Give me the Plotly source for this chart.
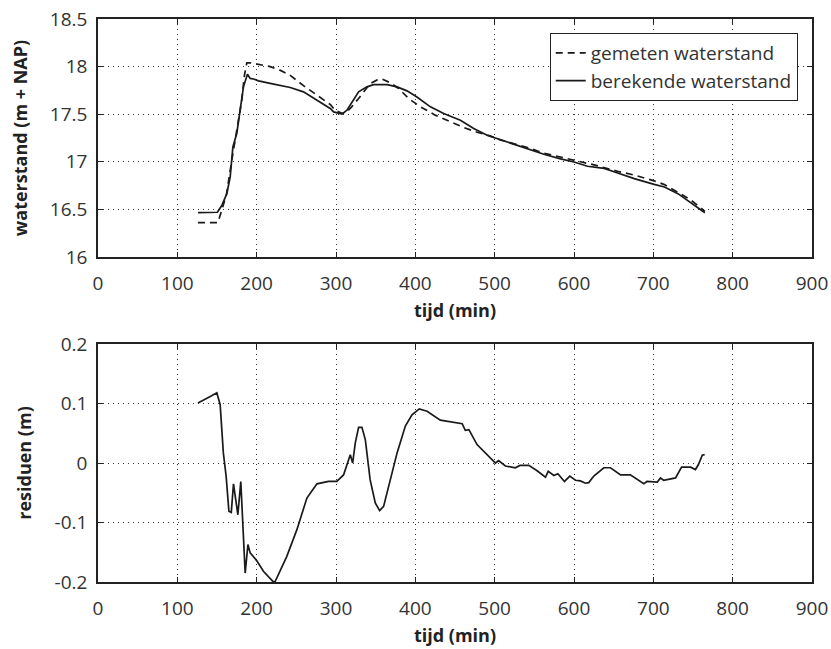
import plotly.graph_objects as go

# ---- data ----
t_gemeten = [126, 151, 156, 162, 168.7, 175, 181.3, 184.6, 187.6, 192, 204, 217, 230, 242, 259, 276,
             293, 299, 307.5, 313, 320, 328.5, 336, 343, 352, 358, 368.5, 379, 391.5, 406, 425, 442,
             461, 478, 495, 507, 524, 545, 562, 583, 600, 624, 655, 676, 701, 714, 731, 747, 765]
h_gemeten = [16.36, 16.36, 16.49, 16.66, 17.02, 17.33, 17.65, 17.91, 18.04, 18.04, 18.02, 18.0, 17.96,
             17.91, 17.8, 17.7, 17.6, 17.54, 17.51, 17.52, 17.58, 17.665, 17.74, 17.82, 17.86, 17.87,
             17.83, 17.77, 17.665, 17.58, 17.49, 17.43, 17.36, 17.31, 17.27, 17.23, 17.19, 17.14, 17.09,
             17.05, 17.02, 16.97, 16.9, 16.86, 16.8, 16.76, 16.68, 16.6, 16.48]

t_berekend = [126, 150.5, 156, 162.4, 166.6, 170, 175, 179, 183.4, 188.4, 191.8, 196, 202.3, 217, 242.3,
              259, 276, 292.7, 297, 307.5, 313.8, 322, 328.5, 339, 347.4, 364.3, 377, 389.5, 402, 419,
              435.7, 456.8, 473.6, 490.5, 507, 524, 545, 562, 583, 600, 617, 638, 655, 676, 701, 714,
              731, 743, 756, 765]
h_berekend = [16.465, 16.47, 16.54, 16.665, 16.84, 17.156, 17.3, 17.54, 17.79, 17.92, 17.876, 17.87,
              17.85, 17.823, 17.78, 17.735, 17.647, 17.56, 17.524, 17.5, 17.542, 17.647, 17.735, 17.787,
              17.81, 17.81, 17.787, 17.745, 17.68, 17.577, 17.507, 17.437, 17.35, 17.279, 17.233, 17.184,
              17.13, 17.079, 17.03, 16.998, 16.953, 16.93, 16.882, 16.823, 16.763, 16.735, 16.665,
              16.595, 16.524, 16.465]

t_res = [126, 135, 141.5, 149.8, 154, 158, 161.5, 165, 168, 170.8, 176.3, 180, 185.5, 189, 191.8, 200,
         208.5, 220.4, 223, 238, 250.7, 263.3, 276, 290.6, 301, 309.5, 318, 321, 324.3, 328.5, 332.7,
         337, 343, 349.5, 355, 360, 368.5, 377, 387.4, 395.8, 405, 414.8, 431.5, 448.3, 459, 463, 467.5,
         477.8, 486, 501, 505, 513.5, 526, 532, 543, 553.5, 564, 567.5, 574.6, 579.6, 588, 594.7, 601.9,
         608, 614.5, 618.6, 625, 637.6, 646, 658.7, 671, 679.7, 688, 692, 705, 709, 713, 728, 735.6,
         747, 753, 756.7, 761.7, 764.7]
r_res = [0.101, 0.108, 0.112, 0.118, 0.098, 0.017, -0.022, -0.081, -0.083, -0.035, -0.087, -0.031,
         -0.185, -0.137, -0.151, -0.164, -0.182, -0.199, -0.2, -0.157, -0.112, -0.059, -0.035, -0.031,
         -0.031, -0.02, 0.014, 0.0, 0.034, 0.06, 0.06, 0.039, -0.028, -0.067, -0.08, -0.073, -0.028,
         0.017, 0.062, 0.081, 0.091, 0.087, 0.072, 0.069, 0.066, 0.055, 0.056, 0.031, 0.02, 0.0, 0.004,
         -0.005, -0.008, -0.004, -0.004, -0.013, -0.024, -0.014, -0.021, -0.018, -0.031, -0.022, -0.029,
         -0.03, -0.034, -0.033, -0.022, -0.008, -0.008, -0.02, -0.02, -0.028, -0.035, -0.031, -0.032,
         -0.025, -0.029, -0.025, -0.007, -0.007, -0.011, -0.003, 0.013, 0.014]

x_ticks = [0, 100, 200, 300, 400, 500, 600, 700, 800, 900]
y1_ticks = [16, 16.5, 17, 17.5, 18, 18.5]
y1_labels = ["16", "16.5", "17", "17.5", "18", "18.5"]
y2_ticks = [-0.2, -0.1, 0, 0.1, 0.2]
y2_labels = ["-0.2", "-0.1", "0", "0.1", "0.2"]

FONT = "Open Sans"
INK = "#1a1a1a"

fig = go.Figure()
fig.add_trace(go.Scatter(x=t_gemeten, y=h_gemeten, mode="lines", name="gemeten waterstand",
                         line=dict(color=INK, width=1.7, dash="7px,5px"), xaxis="x", yaxis="y"))
fig.add_trace(go.Scatter(x=t_berekend, y=h_berekend, mode="lines", name="berekende waterstand",
                         line=dict(color=INK, width=1.7), xaxis="x", yaxis="y"))
fig.add_trace(go.Scatter(x=t_res, y=r_res, mode="lines", showlegend=False,
                         line=dict(color=INK, width=1.7), xaxis="x2", yaxis="y2"))

axis_common = dict(showline=True, linecolor="#222", linewidth=1.6, mirror="allticks",
                   ticks="inside", ticklen=5, tickcolor="#222", tickwidth=1,
                   showgrid=True, gridcolor="#333", griddash="1px,4px", gridwidth=1,
                   zeroline=False, automargin=False,
                   tickfont=dict(family=FONT, size=19, color="#333"))

title_font = dict(family=FONT, size=18, color="#222", weight="bold")

fig.update_layout(
    width=831, height=649,
    margin=dict(l=98, r=19, t=19, b=67),
    paper_bgcolor="white", plot_bgcolor="white",
    font=dict(family=FONT, color="#222"),
    xaxis=dict(domain=[0, 1], range=[0, 900], tickvals=x_ticks, anchor="y", ticklabelstandoff=8,
               title=dict(text="tijd (min)", font=title_font, standoff=10), **axis_common),
    yaxis=dict(domain=[0.5773, 1], range=[16, 18.5], tickvals=y1_ticks, ticktext=y1_labels,
               anchor="x", ticklabelstandoff=5,
               title=dict(text="waterstand (m + NAP)", font=title_font, standoff=18),
               **axis_common),
    xaxis2=dict(domain=[0, 1], range=[0, 900], tickvals=x_ticks, anchor="y2", ticklabelstandoff=8,
                title=dict(text="tijd (min)", font=title_font, standoff=10), **axis_common),
    yaxis2=dict(domain=[0, 0.4227], range=[-0.2, 0.2], tickvals=y2_ticks, ticktext=y2_labels,
                anchor="x2", ticklabelstandoff=5,
                title=dict(text="residuen (m)", font=title_font, standoff=18),
                **axis_common),
    legend=dict(x=0.98, y=0.975, xanchor="right", yanchor="top",
                bgcolor="white", bordercolor="#222", borderwidth=1,
                font=dict(family=FONT, size=19, color="#333"),
                tracegroupgap=0, itemwidth=30),
    showlegend=True,
)

fig.write_html("out.html")
